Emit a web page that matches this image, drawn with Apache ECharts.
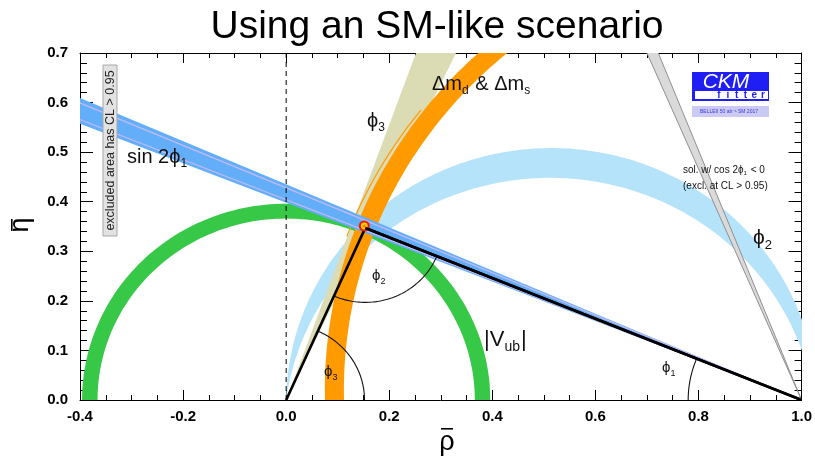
<!DOCTYPE html>
<html>
<head>
<meta charset="utf-8">
<script src="https://cdn.jsdelivr.net/npm/echarts@6/dist/echarts.min.js"></script>
<style>
  html, body { margin: 0; padding: 0; background: #fff; }
  #chart { width: 815px; height: 457px; }
</style>
</head>
<body>
<div id="chart"></div>
<script>
// ---- axes ----
const rhoTicks = [-0.4, -0.2, 0.0, 0.2, 0.4, 0.6, 0.8, 1.0];
const etaTicks = [0.0, 0.1, 0.2, 0.3, 0.4, 0.5, 0.6, 0.7];

// ---- unitarity triangle apex (rho, eta) ----
const apex = [0.1535, 0.347];

// ---- constraints ----
// |Vub| : annulus around the origin (inner, outer radius)
const vubRadii = [0.366, 0.396];
// dm_d & dm_s : annulus, centre and radii
const dmCentre = [1.0, 0.02];
const dmRadii = [0.888, 0.925];
// outer contour of dm_d alone (thin line): radius about (1,0) and eta extent
const dmLineRadius = [0.942];
const dmLineEta = [0.33, 0.585];
// sin 2phi1 : wedge from (1,0), tan of the lower / upper edge
const sin2phi1Tan = [0.398, 0.435];
// inner lavender lines of the sin 2phi1 band
const sin2phi1InnerTan = [0.404, 0.428];
// phi3 : rays from the origin, degrees
const phi3Deg = [64.8, 70.2];
// phi2 : each band edge is the circle through three (rho, eta) points
const phi2OuterPts = [[0.0, 0.0], [0.5, 0.508], [0.99, 0.19]];
const phi2InnerPts = [[0.0, 0.0], [0.5, 0.448], [0.965, 0.18]];
// cos 2phi1 < 0 mirror solution : wedge from (1,0), rho where it leaves eta = 0.7
const mirrorTopRho = [0.700, 0.722];
// angle arcs : radius around each vertex
const angleArcRadius = [0.22, 0.15, 0.152]; // phi1, phi2, phi3

// ---- geometry helpers ----
function arcPts(cx, cy, r, a0, a1, n) {
  n = n || 120;
  const out = [];
  for (let i = 0; i <= n; i++) {
    const a = a0 + (a1 - a0) * i / n;
    out.push([cx + r * Math.cos(a), cy + r * Math.sin(a)]);
  }
  return out;
}
function annulus(cx, cy, r0, r1, a0, a1) {
  return arcPts(cx, cy, r1, a0, a1).concat(arcPts(cx, cy, r0, a0, a1).reverse());
}
function circleThrough(p) {
  const [x1, y1] = p[0], [x2, y2] = p[1], [x3, y3] = p[2];
  const d = 2 * (x1 * (y2 - y3) + x2 * (y3 - y1) + x3 * (y1 - y2));
  const s1 = x1 * x1 + y1 * y1, s2 = x2 * x2 + y2 * y2, s3 = x3 * x3 + y3 * y3;
  const cx = (s1 * (y2 - y3) + s2 * (y3 - y1) + s3 * (y1 - y2)) / d;
  const cy = (s1 * (x3 - x2) + s2 * (x1 - x3) + s3 * (x2 - x1)) / d;
  return { cx: cx, cy: cy, r: Math.hypot(x1 - cx, y1 - cy) };
}
function upperArc(c) {
  // part of the circle above eta = 0
  const a0 = Math.asin(Math.max(-1, Math.min(1, -c.cy / c.r)));
  return arcPts(c.cx, c.cy, c.r, a0, Math.PI - a0, 240);
}
function wedgeFromOne(t0, t1) {
  const x = -0.7;
  return [[1, 0], [x, (1 - x) * t1], [x, (1 - x) * t0]];
}

const polyPhi2 = upperArc(circleThrough(phi2OuterPts)).concat(upperArc(circleThrough(phi2InnerPts)).reverse());
const rad = d => d * Math.PI / 180;
const polyPhi3 = [[0, 0],
  [1.2 * Math.cos(rad(phi3Deg[0])), 1.2 * Math.sin(rad(phi3Deg[0]))],
  [1.2 * Math.cos(rad(phi3Deg[1])), 1.2 * Math.sin(rad(phi3Deg[1]))]];
const polyVub = annulus(0, 0, vubRadii[0], vubRadii[1], 0, Math.PI);
const polyDm = annulus(dmCentre[0], dmCentre[1], dmRadii[0], dmRadii[1], Math.PI / 2, Math.PI + 0.1);
const lineDm = arcPts(1, 0, dmLineRadius[0],
  Math.PI - Math.asin(dmLineEta[1] / dmLineRadius[0]),
  Math.PI - Math.asin(dmLineEta[0] / dmLineRadius[0]), 60);
const polySin = wedgeFromOne(sin2phi1Tan[0], sin2phi1Tan[1]);
const linesSin = sin2phi1InnerTan.map(t => [[1, 0], [-0.7, 1.7 * t]]);
const topEta = 0.8;
const mirrorEdges = mirrorTopRho.map(m => [[1, 0], [1 - (1 - m) * topEta / 0.7, topEta]]);
const polyMirror = [[1, 0], mirrorEdges[0][1], mirrorEdges[1][1]];

// angle arcs
const angTo0 = Math.atan2(-apex[1], -apex[0]) + 2 * Math.PI;
const angTo1 = Math.atan2(-apex[1], 1 - apex[0]) + 2 * Math.PI;
const arcPhi2 = arcPts(apex[0], apex[1], angleArcRadius[1], angTo0, angTo1, 60);
const arcPhi3 = arcPts(0, 0, angleArcRadius[2], 0, Math.atan2(apex[1], apex[0]), 60);
const arcPhi1 = arcPts(1, 0, angleArcRadius[0], Math.atan2(apex[1], apex[0] - 1), Math.PI, 60);
const triangle = [[0, 0], apex, [1, 0]];
const zeroLine = [[0, 0], [0, 0.7]];

// ---- series builders ----
function layer(z, build) {
  return {
    type: 'custom', coordinateSystem: 'cartesian2d', clip: true, silent: true, z: z,
    data: [[0, 0]],
    renderItem: function (params, api) {
      const P = pts => pts.map(p => api.coord(p));
      return { type: 'group', children: build(P, api) };
    }
  };
}
const polygon = (P, pts, style) => ({ type: 'polygon', shape: { points: P(pts) }, style: style });
const polyline = (P, pts, style) => ({ type: 'polyline', shape: { points: P(pts) }, style: Object.assign({ fill: null }, style) });

const series = [
  layer(2, P => [polygon(P, polyPhi2, { fill: '#b5e3fa' })]),
  layer(3, P => [polygon(P, polyPhi3, { fill: '#dcdcb4' })]),
  layer(4, P => [polygon(P, polyVub, { fill: '#36c846' })]),
  layer(5, P => [polygon(P, polyDm, { fill: '#ff9a00' }),
                 polyline(P, lineDm, { stroke: '#ff9a00', lineWidth: 1.2 })]),
  layer(6, P => [polygon(P, polySin, { fill: '#63aef9' })]
      .concat(linesSin.map(l => polyline(P, l, { stroke: '#c3b9f4', lineWidth: 1.3 })))),
  layer(7, P => [polygon(P, polyMirror, { fill: '#dadada' })]
      .concat(mirrorEdges.map(l => polyline(P, l, { stroke: '#8f8f8f', lineWidth: 1 })))),
  layer(8, P => [polyline(P, zeroLine, { stroke: '#000', lineWidth: 1, lineDash: [5, 4] })]),
  layer(9, P => [
    polyline(P, arcPhi1, { stroke: '#111', lineWidth: 1.1 }),
    polyline(P, arcPhi2, { stroke: '#111', lineWidth: 1.1 }),
    polyline(P, arcPhi3, { stroke: '#111', lineWidth: 1.1 })
  ]),
  layer(10, P => [polyline(P, triangle, { stroke: '#000', lineWidth: 2.6, lineJoin: 'miter' })]),
  layer(11, (P) => {
    const c = P([apex])[0];
    return [
      { type: 'circle', shape: { cx: c[0] - 1, cy: c[1] - 2, r: 5.5 }, style: { fill: '#f01e00' } },
      { type: 'circle', shape: { cx: c[0] - 1, cy: c[1] - 2, r: 3.4 }, style: { fill: '#ffd000' } },
      { type: 'circle', shape: { cx: c[0] - 1, cy: c[1] - 2, r: 1.5 }, style: { fill: '#ff7a00' } },
      polyline(P, triangle.slice(1), { stroke: '#000', lineWidth: 2.6 })
    ];
  })
];

// ---- axes ----
const tickFmt = (list) => (v => {
  const t = list.find(x => Math.abs(x - v) < 1e-9);
  return t === undefined ? '' : t.toFixed(1);
});
const labelStyle = { color: '#000', fontWeight: 'bold', fontSize: 15, fontFamily: 'Liberation Sans, Arial, sans-serif' };
function xAx(pos, show) {
  return {
    type: 'value', min: -0.4, max: 1.0, interval: 0.2, position: pos,
    axisLine: { show: true, onZero: false, lineStyle: { color: '#000', width: 1 } },
    axisTick: { show: true, inside: true, length: 10, lineStyle: { color: '#000', width: 1 } },
    minorTick: { show: true, splitNumber: 4, length: 5, lineStyle: { color: '#000', width: 1 } },
    splitLine: { show: false }, minorSplitLine: { show: false },
    axisLabel: Object.assign({ show: show, margin: 9, formatter: tickFmt(rhoTicks) }, labelStyle)
  };
}
function yAx(pos, show) {
  return {
    type: 'value', min: 0, max: 0.7, interval: 0.1, position: pos,
    axisLine: { show: true, onZero: false, lineStyle: { color: '#000', width: 1 } },
    axisTick: { show: true, inside: true, length: 13, lineStyle: { color: '#000', width: 1 } },
    minorTick: { show: true, splitNumber: 5, length: 7, lineStyle: { color: '#000', width: 1 } },
    splitLine: { show: false }, minorSplitLine: { show: false },
    axisLabel: Object.assign({ show: show, margin: 12, formatter: tickFmt(etaTicks) }, labelStyle)
  };
}

// ---- text with subscripts ----
const meas = document.createElement('canvas').getContext('2d');
function textW(str, font) { meas.font = font; return meas.measureText(str).width; }
const FAM = 'Liberation Sans, DejaVu Sans, sans-serif';
function subText(x, y, parts, size, color) {
  const out = [];
  let cx = x;
  parts.forEach(p => {
    const isSub = p[1];
    const fs = Math.round(isSub ? size * 0.62 : size);
    const font = fs + 'px ' + FAM;
    out.push({
      type: 'text', x: cx, y: isSub ? y + size * 0.34 : y, z: 100,
      style: { text: p[0], font: font, fill: color || '#111', align: 'left', verticalAlign: 'middle' }
    });
    cx += textW(p[0], font) + (isSub ? 1 : 0);
  });
  return out;
}

const graphics = [];
// title
graphics.push({ type: 'text', x: 437, y: 27, z: 100,
  style: { text: 'Using an SM-like scenario', font: '39px ' + FAM, fill: '#000', align: 'center', verticalAlign: 'middle' } });
// axis titles
graphics.push({ type: 'text', x: 447, y: 443, z: 100,
  style: { text: 'ρ', font: '27px ' + FAM, fill: '#000', align: 'center', verticalAlign: 'middle' } });
graphics.push({ type: 'rect', shape: { x: 441, y: 428, width: 12, height: 1.6 }, style: { fill: '#000' }, z: 100 });
graphics.push({ type: 'text', x: 21, y: 225, rotation: Math.PI / 2, z: 100,
  style: { text: 'η', font: '27px ' + FAM, fill: '#000', align: 'center', verticalAlign: 'middle' } });
graphics.push({ type: 'rect', shape: { x: 11, y: 219, width: 1.6, height: 12 }, style: { fill: '#000' }, z: 100 });

// band labels
[].concat(
  subText(127, 157, [['sin 2ϕ', 0], ['1', 1]], 20),
  subText(367, 121, [['ϕ', 0], ['3', 1]], 20),
  subText(432, 84, [['Δm', 0], ['d', 1], [' & Δm', 0], ['s', 1]], 20),
  subText(753, 238, [['ϕ', 0], ['2', 1]], 21),
  subText(484, 340, [['|V', 0], ['ub', 1], ['|', 0]], 22),
  subText(372, 276, [['ϕ', 0], ['2', 1]], 15),
  subText(324, 372, [['ϕ', 0], ['3', 1]], 15),
  subText(662, 368, [['ϕ', 0], ['1', 1]], 15),
  subText(683, 170, [['sol. w/ cos 2ϕ', 0], ['1', 1], [' < 0', 0]], 10)
).forEach(g => graphics.push(g));
graphics.push({ type: 'text', x: 683, y: 186, z: 100,
  style: { text: '(excl. at CL > 0.95)', font: '10px ' + FAM, fill: '#111', align: 'left', verticalAlign: 'middle' } });

// excluded-area box
graphics.push({ type: 'rect', shape: { x: 103, y: 65, width: 14, height: 171 }, z: 90,
  style: { fill: '#e2e2e2', stroke: '#a8a8a8', lineWidth: 1 } });
graphics.push({ type: 'text', x: 110.5, y: 150.5, rotation: Math.PI / 2, z: 100,
  style: { text: 'excluded area has CL > 0.95', font: '12.5px ' + FAM, fill: '#222', align: 'center', verticalAlign: 'middle' } });

// CKMfitter badge
graphics.push({ type: 'rect', shape: { x: 692, y: 72, width: 77, height: 29 }, z: 90, style: { fill: '#1e1ef5' } });
graphics.push({ type: 'rect', shape: { x: 695, y: 91, width: 73, height: 8 }, z: 91, style: { fill: '#ffffff' } });
graphics.push({ type: 'text', x: 726, y: 82, z: 100,
  style: { text: 'CKM', font: 'italic 21px ' + FAM, fill: '#fff', align: 'center', verticalAlign: 'middle' } });
'fitter'.split('').forEach((ch, i) => graphics.push({ type: 'text', x: 719 + i * 8.8, y: 95.5, z: 100,
  style: { text: ch, font: 'bold 10px ' + FAM, fill: '#1e1ef5', align: 'center', verticalAlign: 'middle' } }));
graphics.push({ type: 'rect', shape: { x: 692, y: 106, width: 77, height: 11 }, z: 90, style: { fill: '#cacaf4' } });
graphics.push({ type: 'text', x: 729, y: 111.5, z: 100,
  style: { text: 'BELLEII 50 ab⁻¹ SM 2017', font: '5px ' + FAM, fill: '#3a3ae0', align: 'center', verticalAlign: 'middle' } });

const chart = echarts.init(document.getElementById('chart'), null, { renderer: 'canvas' });
chart.setOption({
  animation: false,
  backgroundColor: '#fff',
  grid: { left: 80, right: 10, top: 53, bottom: 57, containLabel: false },
  xAxis: [xAx('bottom', true), xAx('top', false)],
  yAxis: [yAx('left', true), yAx('right', false)],
  series: series,
  graphic: { elements: graphics }
});
</script>
</body>
</html>
